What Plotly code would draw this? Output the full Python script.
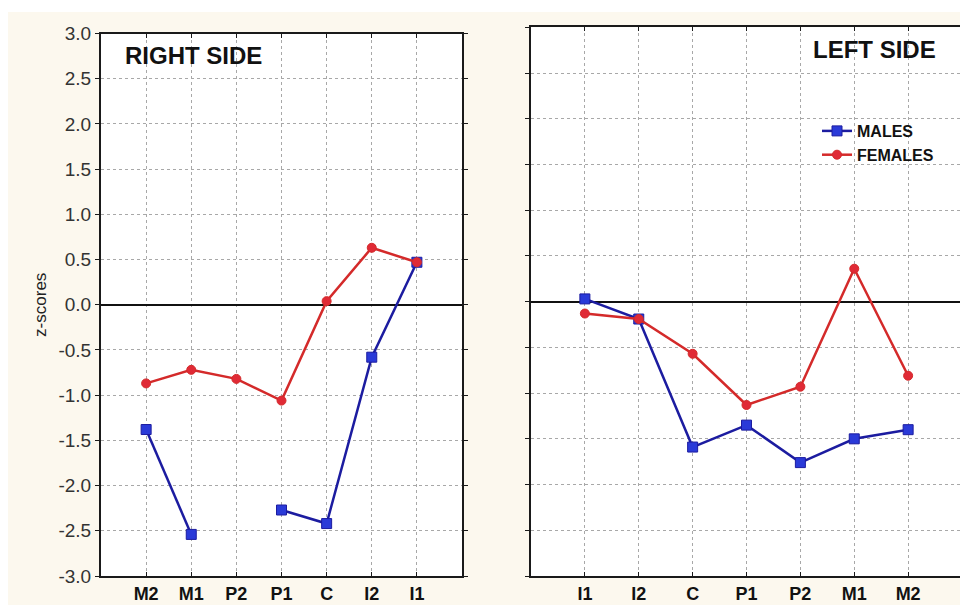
import plotly.graph_objects as go

# ---- data ----
right_categories = ["M2", "M1", "P2", "P1", "C", "I2", "I1"]
right_males = [-1.38, -2.54, None, -2.27, -2.42, -0.58, 0.47]
right_females = [-0.87, -0.72, -0.82, -1.06, 0.04, 0.63, 0.47]

left_categories = ["I1", "I2", "C", "P1", "P2", "M1", "M2"]
left_males = [0.03, -0.19, -1.59, -1.35, -1.76, -1.50, -1.40]
left_females = [-0.13, -0.19, -0.57, -1.13, -0.93, 0.36, -0.81]

y_ticks = [-3.0, -2.5, -2.0, -1.5, -1.0, -0.5, 0.0, 0.5, 1.0, 1.5, 2.0, 2.5, 3.0]
y_ticktext = ["%.1f" % v for v in y_ticks]

# page body has an 8px margin, so the figure is 8px smaller than the window
OFF = 8
W, H = 960, 597
CREAM = "#fcf8ee"
BLUE_LINE = "#1c1ca0"
BLUE_MARK = "#2a3ad8"
RED_LINE = "#d42a2a"
RED_MARK = "#e02a36"
FONT = "Liberation Sans, Arial, sans-serif"


def px(x):
    return (x - OFF) / W


def py(y):
    return 1 - (y - OFF) / H


fig = go.Figure()


def add_pair(cats, males, females, xa, ya, show):
    fig.add_trace(go.Scatter(
        x=cats, y=males, mode="lines+markers", name="<b>MALES</b>",
        xaxis=xa, yaxis=ya, showlegend=show, connectgaps=False,
        line=dict(color=BLUE_LINE, width=2.5),
        marker=dict(symbol="square", size=10, color=BLUE_MARK,
                    line=dict(color=BLUE_LINE, width=1))))
    fig.add_trace(go.Scatter(
        x=cats, y=females, mode="lines+markers", name="<b>FEMALES</b>",
        xaxis=xa, yaxis=ya, showlegend=show,
        line=dict(color=RED_LINE, width=2.5),
        marker=dict(symbol="circle", size=9, color=RED_MARK,
                    line=dict(color=RED_LINE, width=1))))


add_pair(right_categories, right_males, right_females, "x", "y", False)
add_pair(left_categories, left_males, left_females, "x2", "y2", True)

axis_common = dict(
    showline=True, linecolor="#1a1a1a", linewidth=2, mirror="ticks",
    showgrid=True, gridcolor="#a8a8a8", griddash="dot", gridwidth=1,
    ticklen=4, tickcolor="#1a1a1a", automargin=False,
)

xcommon = dict(axis_common, type="category", range=[-1, 7], ticks="inside",
               tickfont=dict(family=FONT, size=18, color="#111111"),
               zeroline=False)
ycommon = dict(axis_common, range=[-3, 3], tickvals=y_ticks, ticks="outside",
               ticktext=y_ticktext,
               zeroline=True, zerolinecolor="#111111", zerolinewidth=1.8)

fig.update_layout(
    width=W, height=H,
    margin=dict(l=0, r=0, t=0, b=0, autoexpand=False),
    paper_bgcolor=CREAM, plot_bgcolor="white",
    font=dict(family=FONT, color="#222222"),
    xaxis=dict(xcommon, domain=[px(101), px(462)], anchor="y",
               categoryorder="array", categoryarray=right_categories,
               tickvals=right_categories,
               ticktext=["<b>%s</b>" % c for c in right_categories]),
    yaxis=dict(ycommon, domain=[py(576), py(33.5)], anchor="x",
               tickfont=dict(family=FONT, size=19, color="#333333"),
               title=dict(text="z-scores", standoff=8,
                          font=dict(family=FONT, size=17, color="#222222"))),
    xaxis2=dict(xcommon, domain=[px(531), px(962)], anchor="y2",
                categoryorder="array", categoryarray=left_categories,
                tickvals=left_categories,
                ticktext=["<b>%s</b>" % c for c in left_categories]),
    yaxis2=dict(ycommon, domain=[py(576), py(27.3)], anchor="x2",
                showticklabels=False),
    legend=dict(x=809 / W, y=1 - 106 / H, xanchor="left", yanchor="top",
                bgcolor="rgba(0,0,0,0)", borderwidth=0,
                font=dict(family=FONT, size=16, color="#111111"),
                itemwidth=30, tracegroupgap=0),
    showlegend=True,
    shapes=[
        dict(type="rect", xref="paper", yref="paper", x0=0, x1=1,
             y0=1 - 4 / H, y1=1, fillcolor="white", line=dict(width=0),
             layer="below"),
    ],
    annotations=[
        dict(text="<b>RIGHT SIDE</b>", xref="x domain", yref="y domain",
             x=0.06, y=0.959, xanchor="left", yanchor="middle",
             showarrow=False, font=dict(family=FONT, size=24, color="#111111")),
        dict(text="<b>LEFT SIDE</b>", xref="x2 domain", yref="y2 domain",
             x=0.945, y=0.9587, xanchor="right", yanchor="middle",
             showarrow=False, font=dict(family=FONT, size=24, color="#111111")),
    ],
)

fig.write_html("out.html")
